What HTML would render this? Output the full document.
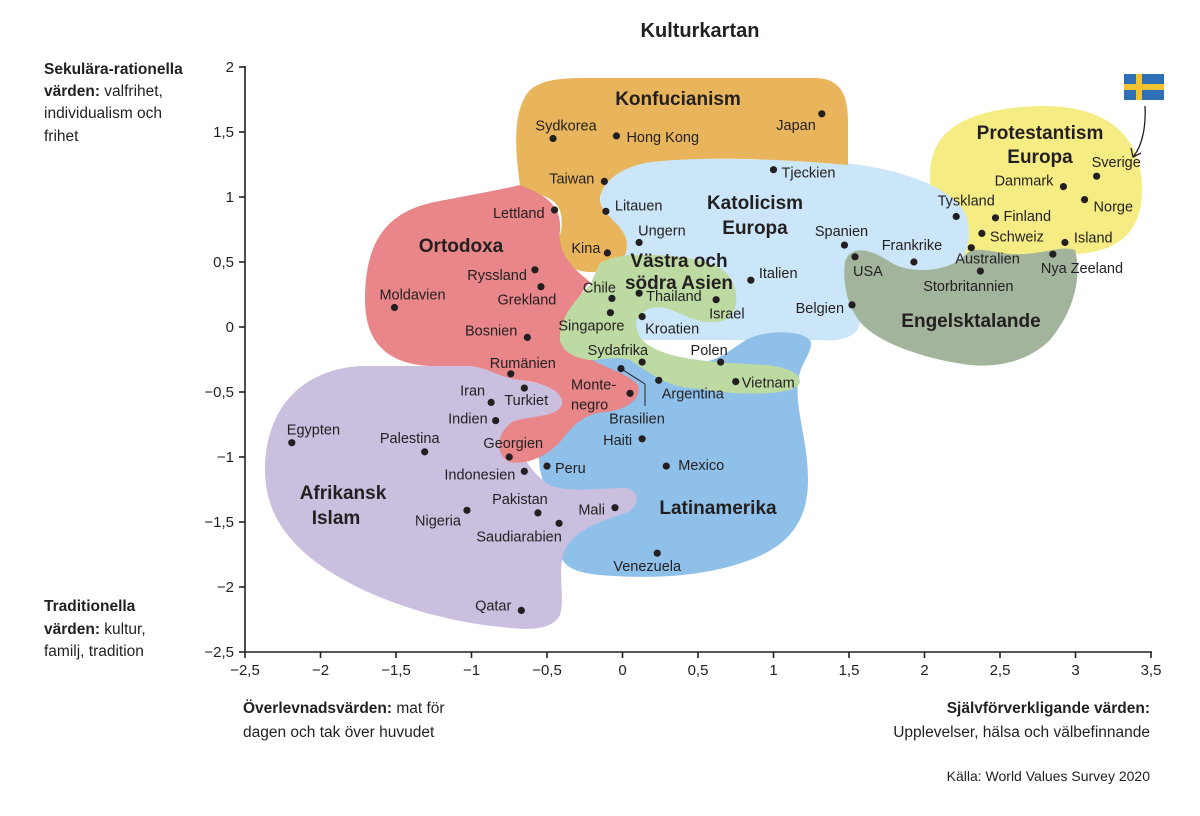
<!DOCTYPE html>
<html><head><meta charset="utf-8"><style>
body{margin:0;background:#fff;}
svg{display:block;font-family:"Liberation Sans",sans-serif;}
.c{font-size:14.5px;fill:#231f20;}
.r{font-size:19px;font-weight:bold;fill:#231f20;}
.t{font-size:15px;fill:#231f20;}
.a{font-size:15.5px;fill:#231f20;}
</style></head><body>
<svg id="chart" width="1200" height="816" viewBox="0 0 1200 816" xmlns="http://www.w3.org/2000/svg">
<text x="700" y="37" text-anchor="middle" font-size="20" font-weight="bold" fill="#231f20">Kulturkartan</text>
<g id="regions">
<path fill="#f5ec84" d="M930,175 C930,125 975,108 1040,106 C1100,105 1142,130 1142,190 C1142,235 1115,252 1075,254 L960,256 C935,250 930,215 930,175 Z"/>
<path fill="#cbe6f8" d="M600,205 C600,175 620,160 660,158 L800,160 C870,162 930,175 960,205 C975,225 970,255 955,265 C930,280 900,275 880,282 C865,290 860,305 860,320 C860,335 845,342 820,340 L600,340 Z"/>
<path fill="#a2b59c" d="M845,262 C850,245 870,248 890,262 C910,275 950,272 965,255 C975,245 990,252 1010,254 C1040,256 1060,245 1075,250 C1082,275 1075,310 1050,340 C1030,360 1000,368 970,365 C930,360 880,345 860,322 C845,302 843,280 845,262 Z"/>
<path fill="#e9b55c" d="M520,185 C515,150 512,110 530,90 C545,77 570,78 600,78 L815,78 C840,78 848,95 848,120 L848,165 C800,160 700,155 645,163 C612,170 600,188 600,200 C600,215 627,225 627,245 C627,265 605,273 588,272 C565,270 555,255 560,235 C565,215 560,200 540,195 Z"/>
<path fill="#8fc0ea" d="M588,358 C610,352 650,360 700,362 C720,362 735,345 750,338 C770,330 800,330 810,340 C815,350 800,362 798,382 C795,410 808,440 808,480 C808,520 790,545 750,560 C710,575 660,580 600,575 C570,572 558,565 558,540 L540,470 L535,420 L560,380 Z"/>
<path fill="#cbbfdf" d="M265,470 C265,410 300,370 360,366 L470,366 C500,368 515,378 530,382 C550,385 565,392 562,405 C558,418 530,420 520,430 C515,450 530,470 545,482 C560,494 600,488 625,488 C640,490 640,505 628,512 C600,522 570,530 563,555 C558,575 565,600 560,615 C552,630 530,630 510,628 C440,622 370,600 320,565 C285,540 265,510 265,470 Z"/>
<path fill="#e8868a" d="M520,185 C545,195 562,205 560,230 C557,255 575,270 590,282 C575,300 565,320 570,345 C590,365 625,370 638,385 C642,400 625,410 605,412 C580,414 570,430 560,442 C545,458 525,465 510,462 C495,455 495,435 512,422 C530,415 560,418 562,403 C563,390 540,382 520,380 C500,378 490,368 470,366 L430,366 C385,364 365,340 365,300 C365,250 380,215 430,203 C470,195 500,190 520,185 Z"/>
<path fill="#bddaa3" d="M600,263 C615,256 625,255 637,255 C670,254 705,258 723,270 C737,282 738,298 735,308 C730,322 717,323 705,322 C690,320 680,312 665,308 C650,305 640,312 636,322 C636,332 640,340 650,346 C670,358 700,362 767,365 C785,367 800,372 800,382 C798,392 770,395 733,393 L690,388 C665,386 645,370 630,360 C615,356 600,360 590,360 C575,358 562,352 560,340 C558,320 575,300 590,285 Z"/>
</g>
<g stroke="#231f20" stroke-width="1.6" fill="none">
<line x1="245" y1="66" x2="245" y2="652"/>
<line x1="245" y1="652" x2="1152" y2="652"/>
<g id="ticks"></g>
</g>
<g id="axislabels"></g>
<line x1="620" y1="368" x2="645" y2="384" stroke="#231f20" stroke-width="1"/>
<line x1="645" y1="384" x2="645" y2="406" stroke="#231f20" stroke-width="1"/>
<g id="regionlabels">
<text class="r" x="678" y="105" text-anchor="middle">Konfucianism</text>
<text class="r" x="755" y="209" text-anchor="middle">Katolicism</text>
<text class="r" x="755" y="234" text-anchor="middle">Europa</text>
<text class="r" x="461" y="252" text-anchor="middle">Ortodoxa</text>
<text class="r" x="679" y="267" text-anchor="middle">Västra och</text>
<text class="r" x="679" y="289" text-anchor="middle">södra Asien</text>
<text class="r" x="1040" y="139" text-anchor="middle">Protestantism</text>
<text class="r" x="1040" y="163" text-anchor="middle">Europa</text>
<text class="r" x="971" y="327" text-anchor="middle">Engelsktalande</text>
<text class="r" x="343" y="499" text-anchor="middle">Afrikansk</text>
<text class="r" x="336" y="524" text-anchor="middle">Islam</text>
<text class="r" x="718" y="514" text-anchor="middle">Latinamerika</text>
</g>
<g id="points"></g>
<g>
<rect x="1124" y="74" width="40" height="26" fill="#2f6fb7"/>
<rect x="1136" y="74" width="6" height="26" fill="#f2c230"/>
<rect x="1124" y="84" width="40" height="6" fill="#f2c230"/>
<path d="M1145,106 C1146,125 1143,145 1133,157" stroke="#231f20" stroke-width="1.3" fill="none"/>
<path d="M1131,148 L1133,157 L1141,153" stroke="#231f20" stroke-width="1.3" fill="none"/>
</g>
<g>
<text class="a" x="44" y="74"><tspan font-weight="bold">Sekulära-rationella</tspan></text>
<text class="a" x="44" y="96"><tspan font-weight="bold">värden:</tspan> valfrihet,</text>
<text class="a" x="44" y="118">individualism och</text>
<text class="a" x="44" y="141">frihet</text>
<text class="a" x="44" y="611"><tspan font-weight="bold">Traditionella</tspan></text>
<text class="a" x="44" y="634"><tspan font-weight="bold">värden:</tspan> kultur,</text>
<text class="a" x="44" y="656">familj, tradition</text>
<text class="a" x="243" y="713"><tspan font-weight="bold">Överlevnadsvärden:</tspan> mat för</text>
<text class="a" x="243" y="737">dagen och tak över huvudet</text>
<text class="a" x="1150" y="713" text-anchor="end"><tspan font-weight="bold">Självförverkligande värden:</tspan></text>
<text class="a" x="1150" y="737" text-anchor="end">Upplevelser, hälsa och välbefinnande</text>
<text x="1150" y="781" text-anchor="end" font-size="14" fill="#231f20">Källa: World Values Survey 2020</text>
</g>
</svg>
<script>
const xTicks=[-2.5,-2,-1.5,-1,-0.5,0,0.5,1,1.5,2,2.5,3,3.5];
const yTicks=[2,1.5,1,0.5,0,-0.5,-1,-1.5,-2,-2.5];
const countries=["Japan","Sydkorea","Hong Kong","Taiwan","Tjeckien","Litauen","Lettland","Ungern","Kina","Ryssland","Grekland","Moldavien","Chile","Thailand","Israel","Italien","Singapore","Kroatien","Bosnien","Sydafrika","Polen","Rumänien","Montenegro","Brasilien","Argentina","Vietnam","Iran","Turkiet","Indien","Egypten","Palestina","Georgien","Haiti","Mexico","Peru","Indonesien","Pakistan","Nigeria","Mali","Saudiarabien","Venezuela","Qatar","Spanien","USA","Frankrike","Belgien","Australien","Storbritannien","Nya Zeeland","Island","Schweiz","Tyskland","Finland","Danmark","Sverige","Norge"];
const survivalValues=[1.32,-0.46,-0.04,-0.12,1.0,-0.11,-0.45,0.11,-0.10,-0.58,-0.54,-1.51,-0.07,0.11,0.62,0.85,-0.08,0.13,-0.63,0.13,0.65,-0.74,0.05,-0.01,0.24,0.75,-0.87,-0.65,-0.84,-2.19,-1.31,-0.75,0.13,0.29,-0.50,-0.65,-0.56,-1.03,-0.05,-0.42,0.23,-0.67,1.47,1.54,1.93,1.52,2.31,2.37,2.85,2.93,2.38,2.21,2.47,2.92,3.14,3.06];
const secularValues=[1.64,1.45,1.47,1.12,1.21,0.89,0.90,0.65,0.57,0.44,0.31,0.15,0.22,0.26,0.21,0.36,0.11,0.08,-0.08,-0.27,-0.27,-0.36,-0.51,-0.32,-0.41,-0.42,-0.58,-0.47,-0.72,-0.89,-0.96,-1.0,-0.86,-1.07,-1.07,-1.11,-1.43,-1.41,-1.39,-1.51,-1.74,-2.18,0.63,0.54,0.50,0.17,0.61,0.43,0.56,0.65,0.72,0.85,0.84,1.08,1.16,0.98];
// label placement (layout only)
const labelDx=[-6,13,10,-10,8,9,-10,-1,-7,-8,-14,18,4,7,-7,8,-19,3,-10,6,7,-21,-59,16,3,6,-6,-20,-8,-5,-15,4,-10,12,8,-9,-18,-6,-10,-40,-10,-10,-3,-2,-2,-8,-16,-12,-12,9,8,10,8,-10,-5,9];
const labelDy=[16,-8,6,2,8,-1,8,-7,0,10,18,-8,-6,8,19,-2,18,17,-2,-7,-7,-6,-4,55,18,6,-7,17,3,-8,-9,-9,6,4,7,8,-9,15,7,18,18,0,-9,19,-12,8,16,20,19,0,8,-11,3,-1,-9,12];
const labelAnchor=["end","middle","start","end","start","start","end","start","end","end","middle","middle","end","start","start","start","middle","start","end","end","end","start","start","middle","start","start","end","start","end","start","middle","middle","end","start","start","end","middle","end","end","middle","middle","end","middle","start","middle","end","start","middle","start","start","start","middle","start","end","start","start"];
const X0=245,X1=1151,Y0=652,Y1=67;
function sx(v){return X0+(v+2.5)/6*(X1-X0);}
function sy(v){return Y0-(v+2.5)/4.5*(Y0-Y1);}
const NS="http://www.w3.org/2000/svg";
function fmt(v){return String(v).replace('-','\u2212').replace('.',',');}
const ticks=document.getElementById('ticks'),al=document.getElementById('axislabels'),pts=document.getElementById('points');
xTicks.forEach(v=>{
 const l=document.createElementNS(NS,'line');
 l.setAttribute('x1',sx(v));l.setAttribute('x2',sx(v));l.setAttribute('y1',Y0);l.setAttribute('y2',Y0+6);
 
 
 ticks.appendChild(l);
 const t=document.createElementNS(NS,'text');
 t.setAttribute('x',sx(v));t.setAttribute('y',Y0+23);t.setAttribute('text-anchor','middle');t.setAttribute('class','t');
 t.textContent=fmt(v);
 
 
 al.appendChild(t);
});
yTicks.forEach(v=>{
 const l=document.createElementNS(NS,'line');
 l.setAttribute('x1',X0-6);l.setAttribute('x2',X0);l.setAttribute('y1',sy(v));l.setAttribute('y2',sy(v));
 
 
 ticks.appendChild(l);
 const t=document.createElementNS(NS,'text');
 t.setAttribute('x',X0-11);t.setAttribute('y',sy(v)+5);t.setAttribute('text-anchor','end');t.setAttribute('class','t');
 t.textContent=fmt(v);
 
 
 al.appendChild(t);
});
countries.forEach((c,i)=>{
 const cx=sx(survivalValues[i]),cy=sy(secularValues[i]);
 const d=document.createElementNS(NS,'circle');
 d.setAttribute('cx',cx);d.setAttribute('cy',cy);d.setAttribute('r',3.6);d.setAttribute('fill','#231f20');
 
 
 pts.appendChild(d);
 const ax=cx+labelDx[i],ay=cy+labelDy[i];
 const t=document.createElementNS(NS,'text');
 t.setAttribute('x',ax);t.setAttribute('y',ay);t.setAttribute('text-anchor',labelAnchor[i]);t.setAttribute('class','c');
 
 
 if(c==="Montenegro"){
  const a=document.createElementNS(NS,'tspan');a.setAttribute('x',ax);a.textContent='Monte-';
  const b=document.createElementNS(NS,'tspan');b.setAttribute('x',ax);b.setAttribute('dy','20');b.textContent='negro';
  t.appendChild(a);t.appendChild(b);
 } else t.textContent=c;
 pts.appendChild(t);
});
</script>
</body></html>
